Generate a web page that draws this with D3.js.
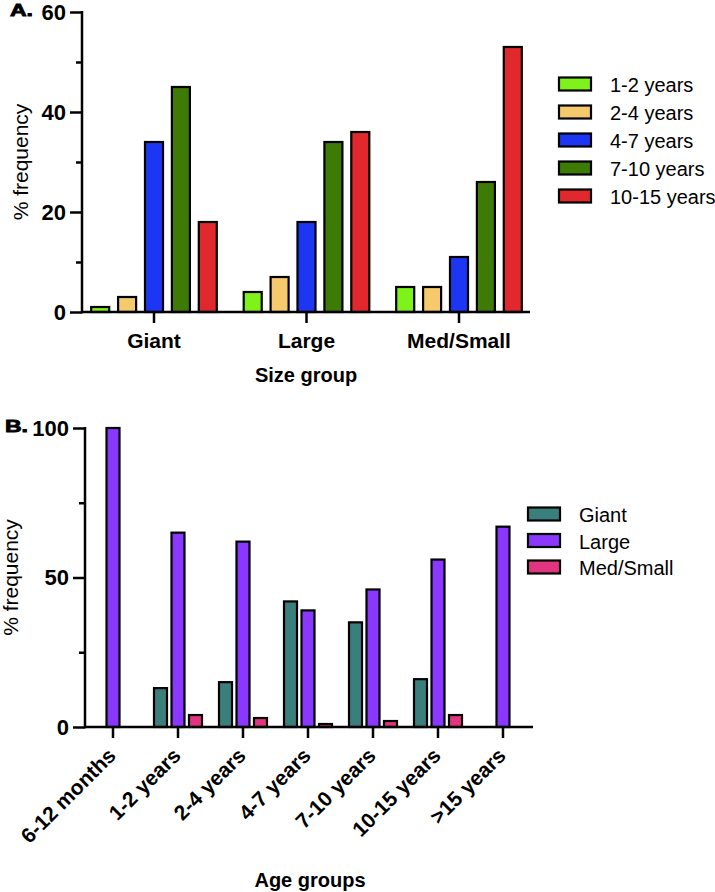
<!DOCTYPE html>
<html>
<head>
<meta charset="utf-8">
<script src="https://cdn.jsdelivr.net/npm/d3@7"></script>
<style>
  body { margin: 0; background: #fff; }
  svg { display: block; font-family: "Liberation Sans", Arial, sans-serif; }
</style>
</head>
<body>
<div id="chart"></div>
<script>
// ---- data, panel A (by size group) ----
const sizeGroups = ['Giant', 'Large', 'Med/Small'];
const ageKeysA = ['1-2 years', '2-4 years', '4-7 years', '7-10 years', '10-15 years'];
const giantA = [1, 3, 34, 45, 18];
const largeA = [4, 7, 18, 34, 36];
const medSmallA = [5, 5, 11, 26, 53];
const yTicksA = [0, 20, 40, 60];
const yMinorA = [10, 30, 50];

// ---- data, panel B (by age group) ----
const ageGroupsB = ['6-12 months', '1-2 years', '2-4 years', '4-7 years', '7-10 years', '10-15 years', '>15 years'];
const sizeKeysB = ['Giant', 'Large', 'Med/Small'];
const giantB = [0, 13, 15, 42, 35, 16, 0];
const largeB = [100, 65, 62, 39, 46, 56, 67];
const medSmallB = [0, 4, 3, 1, 2, 4, 0];
const yTicksB = [0, 50, 100];
const yMinorB = [25, 75];

const colorsA = ['#7ff21c', '#f6c96c', '#1c36f4', '#3e7a06', '#e1292d'];
const colorsB = ['#3a7f7c', '#8a37fe', '#e2357f'];

const width = 715, height = 892;
const svg = d3.select('#chart').append('svg')
    .attr('width', width)
    .attr('height', height);

// small helper to draw one grouped bar panel
function drawPanel(opt) {
    const g = svg.append('g');

    const x0 = d3.scaleBand()
        .domain(opt.groups)
        .range(opt.xRange);

    const x1 = d3.scaleBand()
        .domain(opt.keys)
        .range([0, x0.bandwidth()])
        .paddingInner(opt.padIn)
        .paddingOuter(opt.padOut);

    const y = d3.scaleLinear()
        .domain([0, opt.yMax])
        .range([opt.yBottom, opt.yTop]);

    const color = d3.scaleOrdinal().domain(opt.keys).range(opt.colors);

    // bars
    const rows = opt.groups.map((grp, i) => ({
        group: grp,
        values: opt.keys.map((k, j) => ({ key: k, value: opt.series[j][i] }))
    }));

    g.selectAll('g.grp')
        .data(rows)
        .enter().append('g')
        .attr('class', 'grp')
        .attr('transform', d => `translate(${x0(d.group)},0)`)
        .selectAll('rect')
        .data(d => d.values.filter(v => v.value > 0))
        .enter().append('rect')
        .attr('x', d => x1(d.key))
        .attr('y', d => y(d.value))
        .attr('width', x1.bandwidth())
        .attr('height', d => y(0) - y(d.value))
        .attr('fill', d => color(d.key))
        .attr('stroke', '#000')
        .attr('stroke-width', 2.2);

    // y axis, major ticks
    const yAxis = g.append('g')
        .attr('transform', `translate(${opt.axisX},0)`)
        .call(d3.axisLeft(y).tickValues(opt.yTicks).tickSize(12).tickPadding(4));
    yAxis.select('.domain').remove();
    yAxis.selectAll('line').attr('stroke', '#000').attr('stroke-width', 2.5);
    yAxis.selectAll('text')
        .attr('fill', '#000')
        .style('font-size', '22px')
        .style('font-weight', 'bold');

    // y axis, minor ticks
    const yMinor = g.append('g')
        .attr('transform', `translate(${opt.axisX},0)`)
        .call(d3.axisLeft(y).tickValues(opt.yMinor).tickSize(6).tickFormat(''));
    yMinor.select('.domain').remove();
    yMinor.selectAll('line').attr('stroke', '#000').attr('stroke-width', 2.5);

    // x axis ticks
    const xAxis = g.append('g')
        .attr('transform', `translate(0,${opt.yBottom})`)
        .call(d3.axisBottom(x0).tickSize(11).tickPadding(4));
    xAxis.select('.domain').remove();
    xAxis.selectAll('line').attr('stroke', '#000').attr('stroke-width', 2.5);
    xAxis.selectAll('text')
        .attr('fill', '#000')
        .style('font-size', '21px')
        .style('font-weight', 'bold');

    if (opt.rotate) {
        xAxis.selectAll('text')
            .attr('text-anchor', 'end')
            .attr('dy', null)
            .attr('y', 0)
            .attr('transform', d => `translate(4,30) rotate(-45)`);
    } else {
        xAxis.selectAll('text').attr('dy', null).attr('y', 36);
    }

    // axis lines
    g.append('line')
        .attr('x1', opt.axisX).attr('x2', opt.axisX)
        .attr('y1', opt.yTop - 1).attr('y2', opt.yBottom + 1.25)
        .attr('stroke', '#000').attr('stroke-width', 2.5);
    g.append('line')
        .attr('x1', opt.axisX).attr('x2', opt.xEnd)
        .attr('y1', opt.yBottom).attr('y2', opt.yBottom)
        .attr('stroke', '#000').attr('stroke-width', 2.5);

    // y label
    g.append('text')
        .attr('transform', `translate(${opt.yLabelX},${(opt.yTop + opt.yBottom) / 2}) rotate(-90)`)
        .attr('text-anchor', 'middle')
        .style('font-size', '21px')
        .text('% frequency');

    // x label
    g.append('text')
        .attr('x', opt.xLabelX)
        .attr('y', opt.xLabelY)
        .attr('text-anchor', 'middle')
        .style('font-size', '20px')
        .style('font-weight', 'bold')
        .text(opt.xLabel);

    // panel letter
    g.append('text')
        .attr('x', opt.letterX)
        .attr('y', opt.letterY)
        .attr('textLength', 23)
        .attr('lengthAdjust', 'spacingAndGlyphs')
        .style('font-size', '16px')
        .style('font-weight', 'bold')
        .style('stroke', '#000')
        .style('stroke-width', 0.8)
        .text(opt.letter);

    // legend
    const leg = g.append('g')
        .attr('transform', `translate(${opt.legX},${opt.legY})`);
    const item = leg.selectAll('g')
        .data(opt.keys)
        .enter().append('g')
        .attr('transform', (d, i) => `translate(0,${i * opt.legStep})`);
    item.append('rect')
        .attr('x', 0).attr('y', -6.5)
        .attr('width', 32).attr('height', 13)
        .attr('fill', d => color(d))
        .attr('stroke', '#000')
        .attr('stroke-width', 2.2);
    item.append('text')
        .attr('x', 51)
        .attr('y', 8)
        .style('font-size', '20px')
        .text(d => d);
}

drawPanel({
    groups: sizeGroups,
    keys: ageKeysA,
    series: ageKeysA.map((k, j) => [giantA[j], largeA[j], medSmallA[j]]),
    colors: colorsA,
    xRange: [77.75, 535.25],
    padIn: 0.33,
    padOut: 0.5,
    yMax: 60,
    yTop: 12,
    yBottom: 312,
    axisX: 82,
    xEnd: 530,
    yTicks: yTicksA,
    yMinor: yMinorA,
    rotate: false,
    yLabelX: 28,
    xLabel: 'Size group',
    xLabelX: 306,
    xLabelY: 382,
    letter: 'A.',
    letterX: 10,
    letterY: 16,
    legX: 559,
    legY: 84,
    legStep: 28
});

drawPanel({
    groups: ageGroupsB,
    keys: sizeKeysB,
    series: [giantB, largeB, medSmallB],
    colors: colorsB,
    xRange: [80.5, 535.5],
    padIn: 0.257,
    padOut: 0.486,
    yMax: 100,
    yTop: 428,
    yBottom: 727,
    axisX: 85,
    xEnd: 533,
    yTicks: yTicksB,
    yMinor: yMinorB,
    rotate: true,
    yLabelX: 18,
    xLabel: 'Age groups',
    xLabelX: 310,
    xLabelY: 887,
    letter: 'B.',
    letterX: 5,
    letterY: 432,
    legX: 528,
    legY: 514,
    legStep: 26.5
});
</script>
</body>
</html>
